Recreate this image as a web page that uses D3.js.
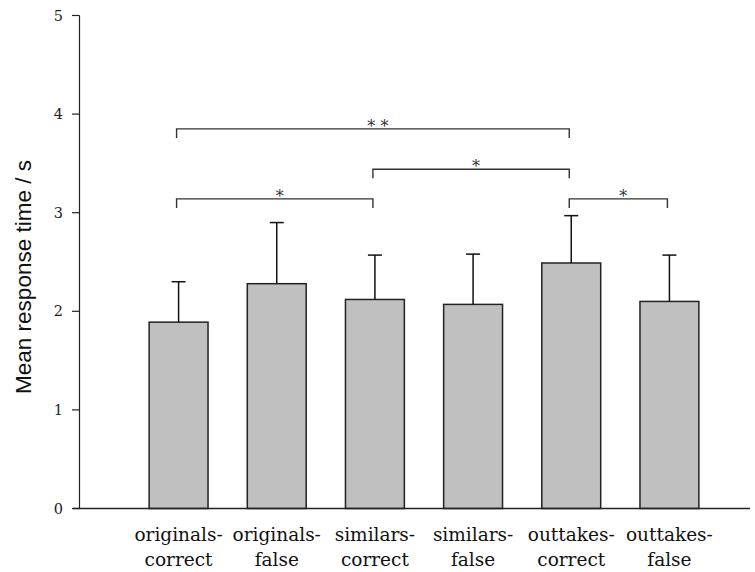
<!DOCTYPE html>
<html>
<head>
<meta charset="utf-8">
<script src="https://cdn.jsdelivr.net/npm/d3@7"></script>
<style>
  body { margin: 0; background: #fff; }
  svg { display: block; }
  .serif { font-family: "DejaVu Serif", serif; }
  .sans  { font-family: "Liberation Sans", Arial, Helvetica, sans-serif; }
</style>
</head>
<body>
<svg id="chart"></svg>
<script>
// ── Data ──────────────────────────────────────────────────────────────────
const categories = [
    ["originals-", "correct"],
    ["originals-", "false"],
    ["similars-", "correct"],
    ["similars-", "false"],
    ["outtakes-", "correct"],
    ["outtakes-", "false"]
];
const means    = [1.89, 2.28, 2.12, 2.07, 2.49, 2.10];
const errTops  = [2.30, 2.90, 2.57, 2.58, 2.97, 2.57];
const yTicks   = [0, 1, 2, 3, 4, 5];
// significance brackets: [from index, to index, level (s), label]
const brackets = [
    [0, 4, 3.85, "* *"],
    [2, 4, 3.44, "*"],
    [0, 2, 3.14, "*"],
    [4, 5, 3.14, "*"]
];

const width = 755, height = 572;
const svg = d3.select("#chart")
    .attr("width", width)
    .attr("height", height);

// ── Scales ────────────────────────────────────────────────────────────────
const x = d3.scaleBand()
    .domain(d3.range(categories.length))
    .range([129.5, 718.5])
    .paddingInner(0.4)
    .paddingOuter(0.2);

const y = d3.scaleLinear()
    .domain([0, 5])
    .range([508.5, 15.5]);

const cx = i => x(i) + x.bandwidth() / 2;

// ── Bars ──────────────────────────────────────────────────────────────────
svg.append("g")
    .selectAll("rect")
    .data(means)
    .join("rect")
    .attr("x", (d, i) => x(i))
    .attr("y", d => y(d))
    .attr("width", x.bandwidth())
    .attr("height", d => y(0) - y(d))
    .attr("fill", "#c0c0c0")
    .attr("stroke", "#222")
    .attr("stroke-width", 1.5);

// ── Error bars ────────────────────────────────────────────────────────────
const err = svg.append("g")
    .attr("stroke", "#111")
    .attr("stroke-width", 1.5);

err.selectAll("line.v")
    .data(errTops)
    .join("line")
    .attr("class", "v")
    .attr("x1", (d, i) => cx(i)).attr("x2", (d, i) => cx(i))
    .attr("y1", (d, i) => y(means[i])).attr("y2", d => y(d));

err.selectAll("line.cap")
    .data(errTops)
    .join("line")
    .attr("class", "cap")
    .attr("x1", (d, i) => cx(i) - 7).attr("x2", (d, i) => cx(i) + 7)
    .attr("y1", d => y(d)).attr("y2", d => y(d));

// ── Axes ──────────────────────────────────────────────────────────────────
svg.append("line")
    .attr("x1", 79.5).attr("x2", 79.5)
    .attr("y1", y(0)).attr("y2", y(5))
    .attr("stroke", "#222").attr("stroke-width", 1.2);

svg.append("line")
    .attr("x1", 73).attr("x2", 750)
    .attr("y1", y(0)).attr("y2", y(0))
    .attr("stroke", "#222").attr("stroke-width", 1.5);

const yt = svg.append("g");
yt.selectAll("line")
    .data(yTicks)
    .join("line")
    .attr("x1", 72).attr("x2", 79.5)
    .attr("y1", d => y(d)).attr("y2", d => y(d))
    .attr("stroke", "#222").attr("stroke-width", 1.2);

yt.selectAll("text")
    .data(yTicks)
    .join("text")
    .attr("class", "serif")
    .attr("x", 63)
    .attr("y", d => y(d) + 5)
    .attr("text-anchor", "end")
    .attr("font-size", 14.5)
    .attr("fill", "#222")
    .text(d => d);

// ── Category labels ───────────────────────────────────────────────────────
const xl = svg.append("g")
    .selectAll("text")
    .data(categories)
    .join("text")
    .attr("class", "serif")
    .attr("text-anchor", "middle")
    .attr("font-size", 18.5)
    .attr("fill", "#111");

xl.append("tspan")
    .attr("x", (d, i) => cx(i))
    .attr("y", 541)
    .text(d => d[0]);

xl.append("tspan")
    .attr("x", (d, i) => cx(i))
    .attr("y", 566)
    .text(d => d[1]);

// ── Y label ───────────────────────────────────────────────────────────────
svg.append("text")
    .attr("class", "sans")
    .attr("transform", "translate(31,277) rotate(-90)")
    .attr("text-anchor", "middle")
    .attr("font-size", 22.5)
    .attr("fill", "#111")
    .text("Mean response time / s");

// ── Significance brackets ─────────────────────────────────────────────────
const br = svg.append("g")
    .selectAll("g")
    .data(brackets)
    .join("g");

br.append("path")
    .attr("fill", "none")
    .attr("stroke", "#333")
    .attr("stroke-width", 1.4)
    .attr("d", d => {
        const x1 = cx(d[0]) - 2, x2 = cx(d[1]) - 2, yy = y(d[2]);
        return `M${x1},${yy + 9}V${yy}H${x2}V${yy + 9}`;
    });

br.append("text")
    .attr("class", "serif")
    .attr("x", d => (cx(d[0]) + cx(d[1])) / 2 + 3)
    .attr("y", d => y(d[2]) + 3)
    .attr("text-anchor", "middle")
    .attr("font-size", 16)
    .attr("fill", "#333")
    .text(d => d[3]);
</script>
</body>
</html>
